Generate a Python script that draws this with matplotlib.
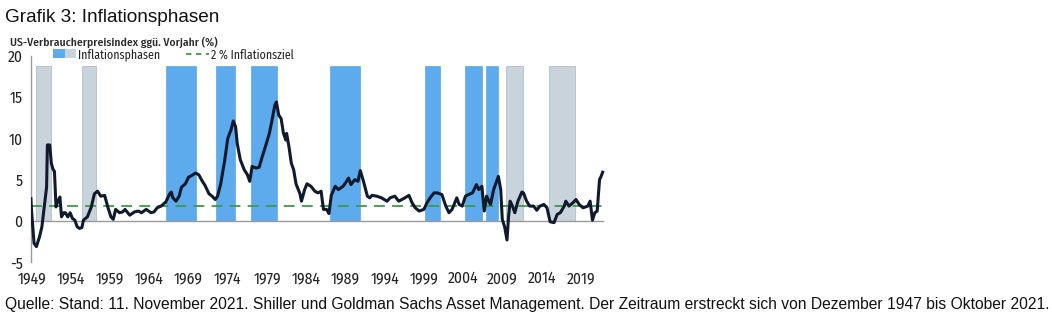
import matplotlib
matplotlib.use("Agg")
import matplotlib.pyplot as plt
from matplotlib import font_manager as fm
from matplotlib.patches import Rectangle
from matplotlib.lines import Line2D
from matplotlib.legend_handler import HandlerBase

# ---------------- data ----------------
years = [1948.9, 1949.0, 1949.3, 1949.6, 1950.0, 1950.3, 1950.6, 1950.9, 1951.0, 1951.3,
         1951.5, 1951.7, 1951.9, 1952.1, 1952.3, 1952.6, 1952.8, 1953.1, 1953.3, 1953.6,
         1953.9, 1954.2, 1954.5, 1954.8, 1955.1, 1955.4, 1955.6, 1956.1, 1956.6, 1957.0,
         1957.4, 1957.8, 1958.3, 1958.7, 1959.1, 1959.4, 1959.7, 1960.2, 1960.6, 1960.9,
         1961.5, 1962.1, 1962.6, 1963.0, 1963.6, 1964.2, 1964.6, 1965.0, 1965.5, 1966.1,
         1966.6, 1966.8, 1967.0, 1967.4, 1967.8, 1968.1, 1968.6, 1969.0, 1969.4, 1969.9,
         1970.3, 1970.7, 1971.1, 1971.6, 1972.0, 1972.4, 1972.7, 1973.1, 1973.6, 1974.0,
         1974.4, 1974.7, 1975.0, 1975.2, 1975.6, 1976.1, 1976.5, 1976.8, 1977.1, 1977.6,
         1978.0, 1978.4, 1978.8, 1979.3, 1979.6, 1980.0, 1980.2, 1980.5, 1980.8, 1981.1,
         1981.4, 1981.5, 1981.8, 1982.1, 1982.4, 1982.7, 1983.2, 1983.4, 1983.8, 1984.1,
         1984.6, 1985.1, 1985.5, 1985.9, 1986.2, 1986.6, 1986.9, 1987.2, 1987.7, 1988.1,
         1988.7, 1989.0, 1989.4, 1989.7, 1990.2, 1990.6, 1990.9, 1991.3, 1991.8, 1992.1,
         1992.4, 1993.0, 1993.6, 1994.3, 1994.7, 1995.3, 1995.8, 1996.4, 1997.1, 1997.5,
         1997.9, 1998.4, 1999.0, 1999.4, 1999.8, 2000.3, 2000.7, 2001.3, 2001.8, 2002.2,
         2002.6, 2003.2, 2003.5, 2003.9, 2004.3, 2004.7, 2005.2, 2005.7, 2006.0, 2006.4,
         2006.7, 2007.0, 2007.5, 2007.9, 2008.5, 2008.8, 2009.0, 2009.3, 2009.6, 2009.8,
         2010.0, 2010.3, 2010.6, 2011.0, 2011.5, 2011.7, 2012.1, 2012.5, 2013.0, 2013.4,
         2013.8, 2014.3, 2014.7, 2015.1, 2015.6, 2016.0, 2016.4, 2016.9, 2017.1, 2017.5,
         2018.0, 2018.4, 2018.8, 2019.3, 2019.9, 2020.2, 2020.5, 2020.8, 2021.1, 2021.4,
         2021.6, 2021.8]
cpi = [2.7, 1.0, -2.7, -3.1, -1.9, -0.7, 1.7, 4.1, 9.2, 9.2,
       7.0, 6.3, 6.0, 1.7, 2.3, 2.9, 0.5, 1.0, 1.0, 0.5,
       1.0, 0.3, 0.1, -0.7, -0.9, -0.8, 0.1, 0.5, 1.7, 3.3,
       3.6, 3.0, 3.1, 1.7, 0.5, 0.2, 1.4, 1.0, 1.1, 1.4,
       0.7, 1.1, 1.2, 1.0, 1.4, 1.0, 1.1, 1.6, 1.8, 2.3,
       3.3, 3.5, 2.8, 2.4, 3.0, 4.1, 4.5, 5.3, 5.5, 5.8,
       5.6, 4.9, 4.3, 3.3, 3.0, 2.6, 3.0, 4.5, 7.3, 10.0,
       11.0, 12.1, 11.4, 9.4, 7.4, 6.2, 5.6, 4.8, 6.6, 6.4,
       6.5, 7.8, 9.0, 10.6, 12.0, 14.0, 14.4, 12.8, 12.4, 10.6,
       9.8, 10.6, 9.0, 7.0, 6.2, 4.5, 3.3, 2.4, 3.8, 4.5,
       4.2, 3.6, 3.4, 3.6, 1.4, 1.4, 0.9, 3.1, 4.2, 3.8,
       4.2, 4.6, 5.2, 4.4, 5.0, 4.8, 6.1, 4.8, 3.0, 2.8,
       3.1, 3.0, 2.8, 2.4, 2.8, 3.0, 2.4, 2.7, 3.1, 2.2,
       1.6, 1.2, 1.4, 2.2, 2.8, 3.4, 3.4, 3.2, 1.8, 1.0,
       1.4, 2.8, 2.0, 1.8, 3.0, 3.2, 3.4, 4.4, 3.8, 4.2,
       1.2, 3.0, 2.0, 3.8, 5.4, 3.8, 0.2, -0.7, -2.3, 0.5,
       2.4, 1.8, 1.0, 2.4, 3.5, 3.4, 2.4, 1.8, 1.8, 1.3,
       1.8, 2.0, 1.6, -0.1, -0.2, 0.8, 1.0, 1.8, 2.4, 1.8,
       2.2, 2.6, 2.0, 1.6, 1.8, 2.4, 0.1, 1.0, 1.2, 5.0,
       5.4, 5.9]

phase_start = [1949.6, 1955.4, 1966.1, 1972.5, 1976.9, 1987.0, 1999.2, 2004.2, 2006.9, 2009.5, 2015.0]
phase_end   = [1951.4, 1957.2, 1970.0, 1974.9, 1980.3, 1990.8, 2001.1, 2006.4, 2008.5, 2011.7, 2018.3]
phase_kind  = ["grau", "grau", "blau", "blau", "blau", "blau", "blau", "blau", "blau", "grau", "grau"]
phase_top = 18.8

target = 1.8
xtick_years = list(range(1949, 2020, 5))
yticks = [-5, 0, 5, 10, 15, 20]

title = "Grafik 3: Inflationsphasen"
subtitle = "US-Verbraucherpreisindex ggü. Vorjahr (%)"
legend_phase = "Inflationsphasen"
legend_target = "2 % Inflationsziel"
source = ("Quelle: Stand: 11. November 2021. Shiller und Goldman Sachs Asset Management. "
          "Der Zeitraum erstreckt sich von Dezember 1947 bis Oktober 2021.")

# ---------------- fonts ----------------
COND = ["Fira Sans Condensed", "Roboto Condensed", "DejaVu Sans"]
ARIAL = ["Liberation Sans", "DejaVu Sans"]

def cond_fp(size, weight="normal"):
    return fm.FontProperties(family=COND, size=size, weight=weight)

def arial_fp(size, weight="normal"):
    return fm.FontProperties(family=ARIAL, size=size, weight=weight)

# ---------------- style ----------------
BLUE = "#5daaec"
GREY = "#c9d3dc"
LINE = "#111a2c"
GREEN = "#3e9a46"
AXIS = "#9a9a9a"
TXT = "#222222"

W, H = 1052, 328
fig = plt.figure(figsize=(W / 100, H / 100), dpi=100)
renderer = fig.canvas.get_renderer()

def fit_text(x, y, s, fpfun, size, target_w, weight="normal", **kw):
    t = fig.text(x / W, 1 - y / H, s, fontproperties=fpfun(size, weight), **kw)
    w = t.get_window_extent(renderer).width
    if w > 0:
        t.set_fontproperties(fpfun(size * target_w / w, weight))
    return t

x_left_px, x_right_px = 31.0, 612.0
y_top_px, y_bot_px = 55.7, 262.3
ax = fig.add_axes([x_left_px / W, (H - y_bot_px) / H,
                   (x_right_px - x_left_px) / W, (y_bot_px - y_top_px) / H])

def px_to_year(px):
    return 1949 + (px - 31.7) / 7.843

ax.set_xlim(px_to_year(x_left_px), px_to_year(x_right_px))
ax.set_ylim(-5, 20)

colors = {"blau": BLUE, "grau": GREY}
edges = {"blau": "#6aaee6", "grau": "#b5bec8"}
for s, e, k in zip(phase_start, phase_end, phase_kind):
    ax.bar(s, phase_top, width=e - s, bottom=0, align="edge", color=colors[k],
           edgecolor=edges[k], linewidth=0.6, zorder=1)

ax.plot([px_to_year(x_left_px), years[-1]], [0, 0], color=AXIS, lw=1.0, zorder=2)
ax.plot([px_to_year(x_left_px), years[-1]], [target, target], color=GREEN, lw=1.3,
        dashes=(6, 4), zorder=3)
ax.plot(years, cpi, color=LINE, lw=2.2, zorder=4, solid_joinstyle="round")

for sp in ["top", "right", "bottom"]:
    ax.spines[sp].set_visible(False)
ax.spines["left"].set_color(AXIS)
ax.spines["left"].set_linewidth(1.0)

tick_fp = cond_fp(11.2)
ax.set_yticks(yticks)
ax.set_yticklabels([str(v) for v in yticks], fontproperties=tick_fp, color=TXT)
ax.tick_params(axis="y", length=0, pad=6)
ax.set_xticks(xtick_years)
ax.set_xticklabels([str(v) for v in xtick_years], fontproperties=tick_fp, color=TXT)
ax.tick_params(axis="x", length=0, pad=6)

# texts
fit_text(5, 18, title, arial_fp, 13.5, 215, va="center", ha="left", color="#111111")
fit_text(10, 42, subtitle, cond_fp, 10, 208, weight="medium", va="center", ha="left", color="#2a2a2a")
fit_text(5, 305, source, arial_fp, 11, 1040, va="center", ha="left", color="#111111")

# legend
class SplitPatch(HandlerBase):
    def create_artists(self, legend, orig, xd, yd, w, h, fs, trans):
        r1 = Rectangle((xd, yd), w / 2, h, facecolor=BLUE, edgecolor="none", transform=trans)
        r2 = Rectangle((xd + w / 2, yd), w / 2, h, facecolor=GREY, edgecolor="none", transform=trans)
        return [r1, r2]

LEG_SIZE = 8.6
em = LEG_SIZE * 100 / 72
h1 = Rectangle((0, 0), 1, 1)
h2 = Line2D([], [], color=GREEN, lw=1.3, dashes=(3, 2.5))
leg = fig.legend([h1, h2], [legend_phase, legend_target], handler_map={Rectangle: SplitPatch()},
                 loc="center left", bbox_to_anchor=(53 / W, 1 - 55 / H), ncol=2, frameon=False,
                 prop=cond_fp(LEG_SIZE), handlelength=23 / em, handleheight=0.85,
                 handletextpad=2 / em, columnspacing=26 / em, borderpad=0, borderaxespad=0)
for t in leg.get_texts():
    t.set_color(TXT)

fig.savefig("out.png", dpi=100, facecolor="white")
